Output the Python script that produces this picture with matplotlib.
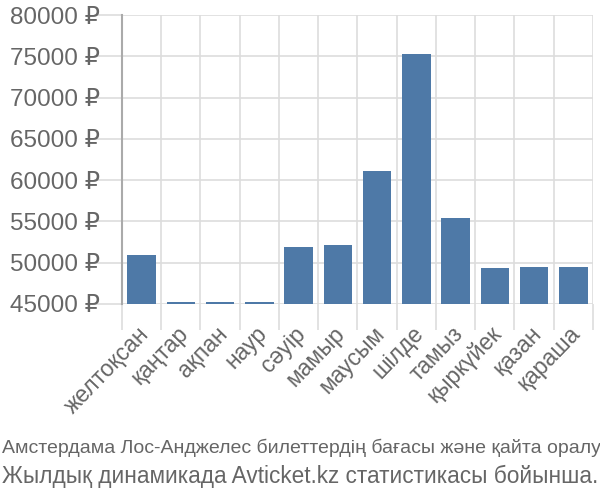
import matplotlib
matplotlib.use('Agg')
import matplotlib.pyplot as plt
import numpy as np

# Monthly average ticket price (RUB)
months = ['желтоқсан', 'қаңтар', 'ақпан', 'наур', 'сәуір', 'мамыр',
          'маусым', 'шілде', 'тамыз', 'қыркүйек', 'қазан', 'қараша']
prices = [50900, 45280, 45280, 45280, 51900, 52150,
          61100, 75280, 55400, 49360, 49480, 49480]
yticks = [45000, 50000, 55000, 60000, 65000, 70000, 75000, 80000]
title_lines = ['Амстердама Лос-Анджелес билеттердің бағасы және қайта оралу',
               'Жылдық динамикада Avticket.kz статистикасы бойынша.']

plt.rcParams['font.family'] = ['Liberation Sans', 'DejaVu Sans']
txt = '#666666'
grid = '#dddddd'

fig = plt.figure(figsize=(6, 5), dpi=100)
ax = fig.add_axes([0.2033, 0.392, 0.785, 0.578])

x = np.arange(len(months))
ax.bar(x, prices, width=0.73, color='#4e79a7', zorder=3)

ax.set_xlim(-0.5, len(months) - 0.5)
ax.set_ylim(45000, 80000)

ax.set_yticks(yticks)
ax.set_yticklabels([f'{v} ₽' for v in yticks])
ax.yaxis.grid(True, color=grid, lw=1.2, zorder=0)
ax.tick_params(axis='y', length=20, color=grid, width=1.2, pad=-4,
               labelsize=17.5, labelcolor=txt)

# labels sit a bit left of bar centres
ax.set_xticks(x - 0.12)
ax.set_xticklabels(months, rotation=46, ha='right', rotation_mode='anchor')
ax.tick_params(axis='x', which='major', length=0, pad=13,
               labelsize=16.5, labelcolor=txt)
ax.set_xticks(np.arange(len(months) + 1) - 0.5, minor=True)
ax.xaxis.grid(True, which='minor', color=grid, lw=1.2, zorder=0)
ax.tick_params(axis='x', which='minor', length=19, color=grid, width=1.2)

for s in ['top', 'right', 'bottom']:
    ax.spines[s].set_visible(False)
ax.spines['left'].set_color('#aaaaaa')
ax.spines['left'].set_linewidth(1.5)

fig.text(0.003, 0.094, title_lines[0], fontsize=14, color=txt)
fig.text(0.003, 0.034, title_lines[1], fontsize=16.3, color=txt)

fig.savefig('out.png', dpi=100)
